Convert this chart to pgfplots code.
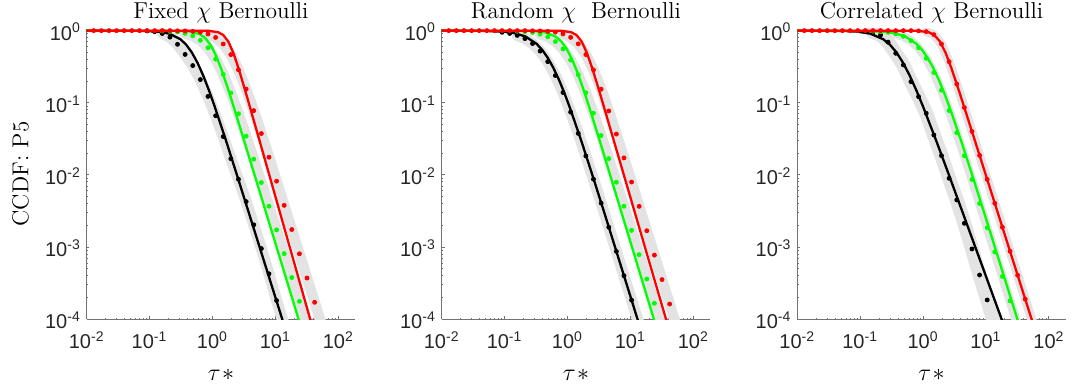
\documentclass[border=0pt]{standalone}
\usepackage{fontspec}
\usepackage{pgfplots}
\usepackage{pgfplotstable}
\pgfplotsset{compat=1.18}
\newfontfamily\tickfont{Liberation Sans}
\definecolor{mgreen}{rgb}{0,1,0}
\definecolor{bandgray}{gray}{0.89}
\definecolor{axgray}{gray}{0.45}
\definecolor{txtgray}{gray}{0.15}

% ---------------- Panel 1 (Fixed) ----------------
\pgfplotstableread[row sep=\\]{x y\\
0.01 1\\ 0.841 0.995\\ 1.225 0.953\\ 1.479 0.871\\ 1.782 0.708\\ 2.148 0.490\\ 2.594 0.301\\ 3.126 0.175\\ 3.776 0.0995\\ 5.495 0.0316\\ 52.1 3.16e-5\\
}\PaRl
\pgfplotstableread[row sep=\\]{x y\\
0.01 1\\ 0.2799 0.996\\ 0.4178 0.979\\ 0.6252 0.897\\ 0.7656 0.791\\ 0.9354 0.630\\ 1.143 0.4445\\ 1.400 0.2835\\ 1.710 0.1694\\ 2.094 0.0979\\ 3.126 0.0315\\ 35.0 3.16e-5\\
}\PaGl
\pgfplotstableread[row sep=\\]{x y\\
0.01 1\\ 0.0592 0.997\\ 0.1352 0.969\\ 0.2046 0.909\\ 0.3097 0.760\\ 0.381 0.640\\ 0.4688 0.500\\ 0.5768 0.3599\\ 0.7096 0.2402\\ 0.8730 0.151\\ 1.074 0.0909\\ 1.626 0.03065\\ 2.455 0.00990\\ 19.50 3.16e-5\\
}\PaKl
\pgfplotstableread[row sep=\\]{x y\\
0.00979 1\\ 0.01294 1\\ 0.01710 1\\ 0.02259 1\\ 0.02985 1\\ 0.03945 1\\ 0.05212 1\\ 0.06902 1\\ 0.09120 1\\ 0.1205 1\\ 0.1592 1\\ 0.2104 1\\
0.2780 0.995\\ 0.3673 0.989\\ 0.4853 0.977\\ 0.6412 0.951\\ 0.8472 0.899\\ 1.122 0.804\\ 1.483 0.653\\ 1.959 0.465\\ 2.588 0.286\\ 3.428 0.155\\
4.529 0.0779\\ 5.984 0.03752\\ 7.907 0.01762\\ 10.45 0.00820\\ 13.80 0.00379\\ 18.24 0.001754\\ 24.10 8.09e-4\\ 31.84 3.73e-4\\ 42.07 1.72e-4\\ 55.59 7.93e-5\\
}\PaRd
\pgfplotstableread[row sep=\\]{x y\\
0.1592 0.989\\ 0.2104 0.977\\ 0.2780 0.956\\ 0.3673 0.917\\ 0.4853 0.846\\ 0.6412 0.734\\ 0.8472 0.579\\ 1.122 0.4025\\ 1.483 0.2473\\ 1.959 0.1369\\
2.588 0.07046\\ 3.428 0.03448\\ 4.529 0.01656\\ 5.984 0.00785\\ 7.907 0.00369\\ 10.45 0.001734\\ 13.80 8.13e-4\\ 18.24 3.79e-4\\ 24.10 1.774e-4\\ 31.84 8.30e-5\\
}\PaGd
\pgfplotstableread[row sep=\\]{x y\\
0.09120 0.99\\ 0.1205 0.966\\ 0.1592 0.912\\ 0.2104 0.813\\ 0.2780 0.646\\ 0.3673 0.468\\ 0.4853 0.3279\\ 0.6412 0.2097\\ 0.8472 0.1225\\ 1.122 0.0662\\
1.483 0.0340\\ 1.959 0.01679\\ 2.588 0.00871\\ 3.428 0.00427\\ 4.529 0.00204\\ 5.984 9.55e-4\\ 7.907 4.27e-4\\ 10.45 1.82e-4\\ 13.80 8.3e-5\\
}\PaKd

% ---------------- Panel 2 (Random) ----------------
\pgfplotstableread[row sep=\\]{x y\\
0.01 1\\ 0.7745 0.995\\ 1.140 0.953\\ 1.384 0.872\\ 1.679 0.707\\ 2.037 0.490\\ 2.472 0.3015\\ 2.999 0.175\\ 3.639 0.0995\\ 5.346 0.0316\\ 54.3 3.16e-5\\
}\PbRl
\pgfplotstableread[row sep=\\]{x y\\
0.01 1\\ 0.1954 0.9967\\ 0.2911 0.987\\ 0.4345 0.950\\ 0.6471 0.830\\ 0.7907 0.713\\ 0.9661 0.561\\ 1.180 0.401\\ 1.442 0.2623\\ 1.758 0.1611\\ 2.148 0.0950\\ 3.206 0.0312\\ 35.3 3.16e-5\\
}\PbGl
\pgfplotstableread[row sep=\\]{x y\\
0.01 1\\ 0.04121 0.995\\ 0.09376 0.9695\\ 0.1413 0.9264\\ 0.2133 0.832\\ 0.3214 0.658\\ 0.3951 0.5425\\ 0.4853 0.4205\\ 0.5961 0.3050\\ 0.7328 0.208\\ 0.8994 0.1344\\ 1.104 0.0832\\ 1.667 0.02929\\ 2.512 0.00970\\ 3.793 0.003125\\ 29.65 1e-5\\
}\PbKl
\pgfplotstableread[row sep=\\]{x y\\
0.00979 1\\ 0.01294 1\\ 0.01710 1\\ 0.02259 1\\ 0.02985 1\\ 0.03945 1\\ 0.05212 1\\ 0.06902 1\\ 0.09120 1\\ 0.1205 1\\ 0.1592 1\\ 0.2104 1\\
0.2780 0.995\\ 0.3673 0.990\\ 0.4853 0.977\\ 0.6412 0.952\\ 0.8472 0.901\\ 1.122 0.806\\ 1.483 0.656\\ 1.959 0.4662\\ 2.588 0.2858\\ 3.428 0.1542\\
4.529 0.0771\\ 5.984 0.03687\\ 7.907 0.01725\\ 10.45 0.00798\\ 13.80 0.003675\\ 18.24 0.001688\\ 24.10 7.75e-4\\ 31.84 3.55e-4\\ 42.07 1.628e-4\\ 55.59 7.46e-5\\
}\PbRd
\pgfplotstableread[row sep=\\]{x y\\
0.1592 0.982\\ 0.2104 0.968\\ 0.2780 0.941\\ 0.3673 0.895\\ 0.4853 0.820\\ 0.6412 0.706\\ 0.8472 0.557\\ 1.122 0.391\\ 1.483 0.2445\\ 1.959 0.1377\\
2.588 0.0717\\ 3.428 0.0352\\ 4.529 0.01686\\ 5.984 0.00792\\ 7.907 0.003686\\ 10.45 0.001706\\ 13.80 7.87e-4\\ 18.24 3.62e-4\\ 24.10 1.667e-4\\ 31.84 7.67e-5\\
}\PbGd
\pgfplotstableread[row sep=\\]{x y\\
0.09120 0.948\\ 0.1205 0.914\\ 0.1592 0.859\\ 0.2104 0.776\\ 0.2780 0.6617\\ 0.3673 0.5204\\ 0.4853 0.3715\\ 0.6412 0.2386\\ 0.8472 0.1389\\ 1.122 0.0743\\
1.483 0.03768\\ 1.959 0.01836\\ 2.588 0.00874\\ 3.428 0.00407\\ 4.529 0.001889\\ 5.984 8.72e-4\\ 7.907 4.015e-4\\ 10.45 1.845e-4\\ 13.80 8.47e-5\\
}\PbKd

% ---------------- Panel 3 (Correlated) ----------------
\pgfplotstableread[row sep=\\]{x y\\
0.01 1\\ 0.8009 0.995\\ 1.218 0.953\\ 1.503 0.872\\ 1.854 0.707\\ 2.286 0.490\\ 2.819 0.3015\\ 3.477 0.175\\ 4.289 0.0995\\ 6.527 0.0316\\ 80.9 3.16e-5\\
}\PcRl
\pgfplotstableread[row sep=\\]{x y\\
0.01 1\\ 0.1 0.995\\ 0.2274 0.9695\\ 0.3429 0.9264\\ 0.5176 0.832\\ 0.7806 0.658\\ 0.9587 0.5425\\ 1.178 0.4205\\ 1.447 0.3050\\ 1.777 0.208\\ 2.182 0.1344\\ 2.680 0.0832\\ 4.044 0.02929\\ 6.099 0.00970\\ 9.203 0.003125\\ 71.9 1e-5\\
}\PcGl
\pgfplotstableread[row sep=\\]{x y\\
0.01 1\\ 0.05484 0.990\\ 0.08878 0.969\\ 0.1438 0.909\\ 0.2327 0.760\\ 0.2961 0.640\\ 0.3767 0.500\\ 0.4793 0.3599\\ 0.6098 0.2402\\ 0.7760 0.151\\ 0.9872 0.0909\\ 1.598 0.03065\\ 2.587 0.00990\\ 46.6 1e-5\\
}\PcKl
\pgfplotstableread[row sep=\\]{x y\\
0.00979 1\\ 0.01294 1\\ 0.01710 1\\ 0.02259 1\\ 0.02985 1\\ 0.03945 1\\ 0.05212 1\\ 0.06902 1\\ 0.09120 1\\ 0.1205 1\\ 0.1592 1\\ 0.2104 1\\
0.2780 1\\ 0.3673 1\\ 0.4853 1\\ 0.6412 1\\ 0.8472 0.993\\ 1.122 0.9696\\ 1.483 0.879\\ 1.959 0.6518\\ 2.588 0.3714\\ 3.428 0.182\\
4.529 0.0859\\ 5.984 0.04007\\ 7.907 0.01868\\ 10.45 0.00869\\ 13.80 0.004048\\ 18.24 0.001884\\ 24.10 8.77e-4\\ 31.84 4.085e-4\\ 42.07 1.901e-4\\ 55.59 8.85e-5\\
}\PcRd
\pgfplotstableread[row sep=\\]{x y\\
0.1592 0.984\\ 0.2104 0.9706\\ 0.2780 0.9464\\ 0.3673 0.904\\ 0.4853 0.8334\\ 0.6412 0.7251\\ 0.8472 0.5796\\ 1.122 0.4137\\ 1.483 0.2625\\ 1.959 0.1495\\
2.588 0.0783\\ 3.428 0.03857\\ 4.529 0.01848\\ 5.984 0.00867\\ 7.907 0.004025\\ 10.45 0.001861\\ 13.80 8.56e-4\\ 18.24 3.928e-4\\ 24.10 1.803e-4\\ 31.84 8.27e-5\\
}\PcGd
\pgfplotstableread[row sep=\\]{x y\\
0.1205 0.989\\ 0.1592 0.955\\ 0.2104 0.871\\ 0.2780 0.692\\ 0.3673 0.4853\\ 0.4853 0.3342\\ 0.6412 0.1963\\ 0.8472 0.1216\\ 1.122 0.0716\\
1.483 0.0358\\ 1.959 0.01854\\ 2.588 0.008995\\ 3.428 0.004508\\ 4.529 0.002138\\ 5.984 9.44e-4\\ 7.907 4.11e-4\\ 10.45 1.854e-4\\ 13.80 8.3e-5\\
}\PcKd

% global axis settings (apply to all three axes)
\pgfplotsset{
  scale only axis, width=134.2pt, height=145.4pt,
  xmin=0.01, xmax=185, ymin=1e-4, ymax=1.07,
  axis lines=left,
  axis line style={-, draw=axgray, line width=0.6pt},
  tick style={draw=axgray, line width=0.5pt},
  tick align=inside,
  major tick length=1.4pt, minor tick length=0.8pt,
  xtick={0.01,0.1,1,10,100},
  xticklabels={10\textsuperscript{-2},10\textsuperscript{-1},10\textsuperscript{0},10\textsuperscript{1},10\textsuperscript{2}},
  minor xtick={0.02,0.03,0.04,0.05,0.06,0.07,0.08,0.09,0.2,0.3,0.4,0.5,0.6,0.7,0.8,0.9,2,3,4,5,6,7,8,9,20,30,40,50,60,70,80,90},
  ytick={1e-4,1e-3,1e-2,1e-1,1},
  yticklabels={10\textsuperscript{-4},10\textsuperscript{-3},10\textsuperscript{-2},10\textsuperscript{-1},10\textsuperscript{0}},
  minor ytick={2e-4,3e-4,4e-4,5e-4,6e-4,7e-4,8e-4,9e-4,0.002,0.003,0.004,0.005,0.006,0.007,0.008,0.009,0.02,0.03,0.04,0.05,0.06,0.07,0.08,0.09,0.2,0.3,0.4,0.5,0.6,0.7,0.8,0.9},
  ticklabel style={font=\tickfont\fontsize{10}{12}\selectfont, text=txtgray},
  xticklabel style={anchor=base, yshift=-14.8pt},
  yticklabel style={anchor=base east, inner xsep=0pt, xshift=-2.75pt, yshift=-4.75pt},
  every axis title/.style={at={(0.5,1)}, anchor=base, yshift=4.8pt, font=\fontsize{11.5}{13}\selectfont},
  every axis x label/.style={at={(0.5,0)}, anchor=base, yshift=-30.35pt, font=\fontsize{13}{15}\selectfont},
  clip marker paths=true,
}

\begin{document}
\begin{tikzpicture}
\path[use as bounding box] (0,0) rectangle (541pt,195pt);

\begin{loglogaxis}[at={(43.35pt,35.35pt)}, anchor=south west,
  title={Fixed $\chi$ Bernoulli}, xlabel={$\tau\mkern1mu{*}$}]
\addplot[draw=bandgray, line width=5.6pt, line cap=round, line join=round, skip coords between index={0}{2}] table {\PaKd};
\addplot[draw=bandgray, line width=5.3pt, line cap=round, line join=round, skip coords between index={0}{3}] table {\PaGd};
\addplot[draw=bandgray, line width=5.3pt, line cap=round, line join=round, skip coords between index={0}{16}] table {\PaRd};
\addplot[draw=black, line width=1.15pt] table {\PaKl};
\addplot[only marks, color=black, mark=*, mark size=1.0pt, mark options={solid, line width=0.4pt}] table {\PaKd};
\addplot[draw=mgreen, line width=1.15pt] table {\PaGl};
\addplot[only marks, color=mgreen, mark=*, mark size=1.0pt, mark options={solid, line width=0.4pt}] table {\PaGd};
\addplot[draw=red, line width=1.15pt] table {\PaRl};
\addplot[only marks, color=red, mark=*, mark size=1.0pt, mark options={solid, line width=0.4pt}] table {\PaRd};
\end{loglogaxis}

\begin{loglogaxis}[at={(220.85pt,35.35pt)}, anchor=south west,
  title={Random $\chi$\ \ Bernoulli}, xlabel={$\tau\mkern1mu{*}$}]
\addplot[draw=bandgray, line width=5.6pt, line cap=round, line join=round, skip coords between index={0}{2}] table {\PbKd};
\addplot[draw=bandgray, line width=5.3pt, line cap=round, line join=round, skip coords between index={0}{3}] table {\PbGd};
\addplot[draw=bandgray, line width=5.3pt, line cap=round, line join=round, skip coords between index={0}{16}] table {\PbRd};
\addplot[draw=black, line width=1.15pt] table {\PbKl};
\addplot[only marks, color=black, mark=*, mark size=1.0pt, mark options={solid, line width=0.4pt}] table {\PbKd};
\addplot[draw=mgreen, line width=1.15pt] table {\PbGl};
\addplot[only marks, color=mgreen, mark=*, mark size=1.0pt, mark options={solid, line width=0.4pt}] table {\PbGd};
\addplot[draw=red, line width=1.15pt] table {\PbRl};
\addplot[only marks, color=red, mark=*, mark size=1.0pt, mark options={solid, line width=0.4pt}] table {\PbRd};
\end{loglogaxis}

\begin{loglogaxis}[at={(398.65pt,35.35pt)}, anchor=south west,
  title={Correlated $\chi$ Bernoulli}, xlabel={$\tau\mkern1mu{*}$}]
\addplot[draw=bandgray, line width=7pt, line cap=round, line join=round, skip coords between index={0}{1}] table {\PcKd};
\addplot[draw=bandgray, line width=4.5pt, line cap=round, line join=round, skip coords between index={0}{3}] table {\PcGd};
\addplot[draw=bandgray, line width=4.5pt, line cap=round, line join=round, skip coords between index={0}{17}] table {\PcRd};
\addplot[draw=black, line width=1.15pt] table {\PcKl};
\addplot[only marks, color=black, mark=*, mark size=1.0pt, mark options={solid, line width=0.4pt}] table {\PcKd};
\addplot[draw=mgreen, line width=1.15pt] table {\PcGl};
\addplot[only marks, color=mgreen, mark=*, mark size=1.0pt, mark options={solid, line width=0.4pt}] table {\PcGd};
\addplot[draw=red, line width=1.15pt] table {\PcRl};
\addplot[only marks, color=red, mark=*, mark size=1.0pt, mark options={solid, line width=0.4pt}] table {\PcRd};
\end{loglogaxis}

\node[rotate=90, anchor=base, font=\fontsize{11.5}{13}\selectfont] at (14.15pt,108pt) {CCDF: P5};
\end{tikzpicture}
\end{document}
